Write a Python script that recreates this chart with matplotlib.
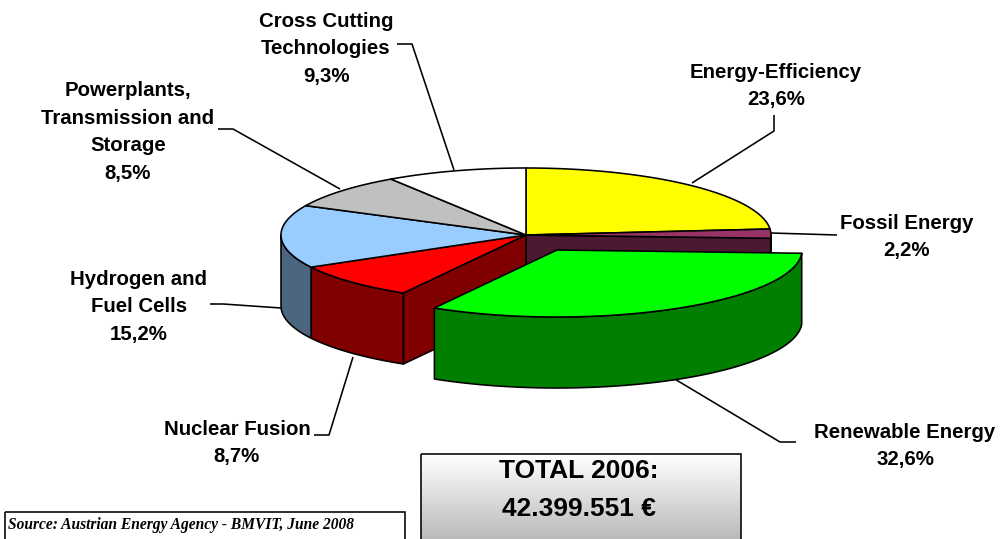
import numpy as np
import matplotlib
matplotlib.use("Agg")
import matplotlib.pyplot as plt
from matplotlib.patches import Polygon, Rectangle

plt.rcParams['font.family'] = ['Liberation Sans', 'DejaVu Sans']

# slices, clockwise from 12 o'clock
categories = ["Energy-Efficiency", "Fossil Energy", "Renewable Energy", "Nuclear Fusion",
              "Hydrogen and\nFuel Cells", "Powerplants,\nTransmission and\nStorage",
              "Cross Cutting\nTechnologies"]
shares = [23.6, 2.2, 32.6, 8.7, 15.2, 8.5, 9.3]
share_labels = ["23,6%", "2,2%", "32,6%", "8,7%", "15,2%", "8,5%", "9,3%"]
total_label = "TOTAL 2006:\n42.399.551 €"
source_label = "Source: Austrian Energy Agency - BMVIT, June 2008"

top_colors = ["#FFFF00", "#993366", "#00FF00", "#FF0000", "#99CCFF", "#C0C0C0", "#FFFFFF"]
side_colors = ["#808000", "#4C1933", "#007F00", "#800000", "#4D6680", "#606060", "#808080"]

# pie geometry in picture pixels
CX, CY = 526, 235
RX, RY = 245, 67
DEPTH = 71
EXPLODE = {2: (31, 15)}

LW = 1.15

# label centres and leader lines
label_pos = [(776, 86), (907, 237), (905, 446), (237, 443), (139, 307), (128, 132), (326, 49)]
leaders = [
    [(774, 115), (774, 131), (692, 183)],
    [(771, 233), (837, 235)],
    [(796, 442), (780, 442), (673, 378)],
    [(314, 435), (329, 435), (353, 357)],
    [(210, 304), (223, 304), (281, 308)],
    [(218, 129), (233, 129), (340, 189)],
    [(397, 44), (412, 44), (454, 170)],
]

fig = plt.figure(figsize=(10, 5.39), dpi=100)
ax = fig.add_axes([0, 0, 1, 1])
ax.set_xlim(0, 1000)
ax.set_ylim(539, 0)
ax.axis("off")

edges = np.radians(90 - np.cumsum([0] + shares) / sum(shares) * 360)


def rim(a0, a1, cx, cy):
    t = np.linspace(a0, a1, 80)
    return np.column_stack([cx + RX * np.cos(t), cy - RY * np.sin(t)])


def offset(i):
    dx, dy = EXPLODE.get(i, (0, 0))
    return CX + dx, CY + dy


def draw_poly(pts, color, z):
    ax.add_patch(Polygon(pts, closed=True, facecolor=color, edgecolor="black",
                         linewidth=LW, joinstyle="round", zorder=z))


def cut_wall(i, a):
    cx, cy = offset(i)
    p = rim(a, a, cx, cy)[0]
    return [(cx, cy), tuple(p), (p[0], p[1] + DEPTH), (cx, cy + DEPTH)]


def draw_slice(i, z):
    cx, cy = offset(i)
    a0, a1 = edges[i], edges[i + 1]
    # outer face, front half only
    lo, hi = max(a1, -np.pi), min(a0, 0)
    if lo < hi:
        r = rim(hi, lo, cx, cy)
        draw_poly(np.vstack([r, (r + [0, DEPTH])[::-1]]), side_colors[i], z)
    draw_poly(np.vstack([[(cx, cy)], rim(a0, a1, cx, cy)]), top_colors[i], z + 0.5)


# back slices first, exploded slice last
draw_poly(cut_wall(1, edges[2]), side_colors[1], 1)
draw_poly(cut_wall(3, edges[3]), side_colors[3], 1)
for i in [0, 1, 6, 5, 4, 3]:
    draw_slice(i, 2 + 0.01 * i)
draw_slice(2, 5)

for pts in leaders:
    xs, ys = zip(*pts)
    ax.plot(xs, ys, color="black", lw=LW, zorder=0.5, solid_capstyle="butt")

for (x, y), cat, val in zip(label_pos, categories, share_labels):
    ax.text(x, y, cat + "\n" + val, ha="center", va="center", fontsize=14.7, fontweight="bold",
            linespacing=1.58, zorder=7)

# total box with vertical gradient
grad = np.linspace(1, 0.73, 128).reshape(-1, 1)
ax.imshow(grad, extent=(421, 741, 539, 454), cmap="gray", vmin=0, vmax=1, aspect="auto", zorder=3)
ax.set_xlim(0, 1000)
ax.set_ylim(539, 0)
ax.add_patch(Rectangle((421, 454), 320, 90, fill=False, edgecolor="black", linewidth=LW, zorder=4))
ax.text(579, 490, total_label, ha="center", va="center", fontsize=19, fontweight="bold",
        linespacing=1.72, zorder=7)

ax.add_patch(Rectangle((5, 512), 400, 32, fill=False, edgecolor="black", linewidth=LW, zorder=4))
ax.text(8, 525, source_label, ha="left", va="center", fontsize=11.2, fontstyle="italic",
        fontweight="bold", family=["Liberation Serif", "DejaVu Serif"], zorder=7)

fig.savefig("out.png", dpi=100)
